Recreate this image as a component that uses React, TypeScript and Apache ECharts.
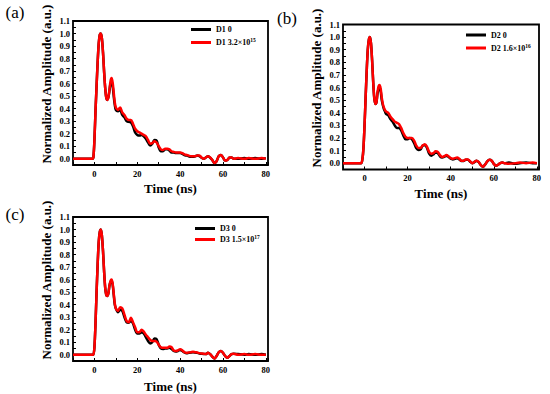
import React, { useEffect, useRef } from "react";
import * as echarts from "echarts";

const T = [-10, -5, -2, -1.5, -1, -0.5, 0, 0.5, 1, 1.5, 2, 2.5, 3, 3.5, 4, 4.5, 5, 5.5, 6, 6.5, 7, 7.5, 8, 8.5, 9, 9.5, 10,
  11, 12, 13, 14, 15, 16, 17, 18, 19, 20, 21, 22, 23, 24, 25, 26, 27, 28, 29, 30, 31, 32, 33, 34, 35, 36, 37, 38, 39, 40,
  41, 42, 43, 44, 45, 46, 47, 48, 49, 50, 51, 52, 53, 54, 55, 56, 57, 58, 59, 60, 61, 62, 63, 64, 65, 67, 70, 72, 75, 78, 80];

const A_BLACK = [0, 0, 0, 0, 0, 0.01, 0.15, 0.38, 0.58, 0.77, 0.92, 0.99, 1.0, 0.96, 0.85, 0.7, 0.57, 0.49, 0.47, 0.49, 0.54, 0.6, 0.61, 0.58, 0.5, 0.43, 0.39,
  0.38, 0.39, 0.35, 0.33, 0.3, 0.295, 0.29, 0.26, 0.21, 0.19,
  0.185, 0.19, 0.18, 0.16, 0.13, 0.105, 0.12, 0.15, 0.145, 0.09,
  0.06, 0.06, 0.075, 0.075, 0.065, 0.05, 0.05, 0.045, 0.045, 0.045,
  0.04, 0.03, 0.025, 0.02, 0.015, 0.015, 0.02, 0.025, 0.02, 0.008,
  0, 0.01, 0.02, 0.008, -0.01, -0.035, -0.02, 0.02, 0.03, 0.01,
  -0.015, -0.01, 0.008, 0.01, 0,
  0, 0.005, 0, 0.005, 0, 0.005];
const A_RED = [0, 0, 0, 0, 0, 0.01, 0.15, 0.38, 0.58, 0.77, 0.92, 0.99, 1.0, 0.96, 0.85, 0.7, 0.57, 0.49, 0.47, 0.49, 0.55, 0.62, 0.645, 0.61, 0.53, 0.45, 0.41,
  0.39, 0.41, 0.37, 0.35, 0.32, 0.31, 0.31, 0.28, 0.24, 0.22,
  0.21, 0.2, 0.19, 0.18, 0.15, 0.12, 0.125, 0.14, 0.13, 0.1,
  0.075, 0.07, 0.08, 0.08, 0.075, 0.06, 0.055, 0.05, 0.05, 0.05,
  0.045, 0.035, 0.03, 0.025, 0.02, 0.02, 0.02, 0.025, 0.025, 0.01,
  0, 0.01, 0.02, 0.01, -0.01, -0.035, -0.02, 0.02, 0.03, 0.01,
  -0.015, -0.01, 0.01, 0.01, 0,
  0.005, 0, 0.005, 0, 0.005, 0];

const B_BLACK = [0, 0, 0, 0, 0.03, 0.12, 0.3, 0.52, 0.73, 0.9, 0.98, 1.0, 0.95, 0.82, 0.65, 0.52, 0.47, 0.48, 0.55, 0.59, 0.6, 0.57, 0.5, 0.46, 0.43, 0.41, 0.39,
  0.38, 0.35, 0.33, 0.3, 0.28, 0.28, 0.26, 0.22, 0.19, 0.19,
  0.2, 0.19, 0.16, 0.12, 0.105, 0.11, 0.14, 0.145, 0.12, 0.075,
  0.06, 0.07, 0.085, 0.08, 0.055, 0.045, 0.05, 0.06, 0.05, 0.035,
  0.03, 0.035, 0.04, 0.03, 0.018, 0.018, 0.028, 0.028, 0.012, 0,
  0.008, 0.02, 0.008, -0.015, -0.028, -0.01, 0.015, 0.027, 0.02, -0.005,
  -0.02, -0.012, 0, 0.005, 0,
  0.005, -0.005, 0, 0.005, 0, 0];
const B_RED = [0, 0, 0, 0, 0.03, 0.12, 0.3, 0.52, 0.73, 0.9, 0.98, 1.0, 0.95, 0.82, 0.65, 0.52, 0.47, 0.48, 0.56, 0.61, 0.62, 0.59, 0.52, 0.47, 0.44, 0.42, 0.41,
  0.4, 0.37, 0.35, 0.33, 0.32, 0.31, 0.28, 0.24, 0.21, 0.2,
  0.2, 0.2, 0.18, 0.14, 0.12, 0.12, 0.14, 0.15, 0.13, 0.09,
  0.075, 0.08, 0.095, 0.09, 0.065, 0.05, 0.055, 0.065, 0.055, 0.04,
  0.035, 0.04, 0.045, 0.035, 0.02, 0.02, 0.03, 0.03, 0.015, 0,
  0.01, 0.02, 0.01, -0.015, -0.028, -0.01, 0.015, 0.027, 0.02, -0.005,
  -0.02, -0.012, 0, 0.005, 0,
  -0.005, 0, 0.005, 0, 0.005, 0];

const C_BLACK = [0, 0, 0, 0, 0, 0, 0.06, 0.25, 0.5, 0.72, 0.9, 0.98, 1.0, 0.95, 0.83, 0.67, 0.54, 0.48, 0.47, 0.49, 0.55, 0.58, 0.59, 0.56, 0.48, 0.4, 0.37,
  0.34, 0.36, 0.35, 0.3, 0.26, 0.255, 0.27, 0.25, 0.2, 0.17,
  0.17, 0.18, 0.17, 0.14, 0.11, 0.09, 0.1, 0.13, 0.125, 0.08,
  0.05, 0.045, 0.05, 0.05, 0.055, 0.045, 0.03, 0.025, 0.03, 0.038,
  0.03, 0.018, 0.012, 0.015, 0.018, 0.02, 0.018, 0.015, 0.01, 0.008,
  0.005, 0.005, 0.015, 0.005, -0.015, -0.03, -0.01, 0.02, 0.03, 0.015,
  -0.01, -0.024, -0.01, 0.005, 0.008,
  0.005, 0, 0.005, 0, 0.005, 0];
const C_RED = [0, 0, 0, 0, 0, 0, 0.06, 0.25, 0.5, 0.72, 0.9, 0.98, 1.0, 0.95, 0.83, 0.67, 0.54, 0.48, 0.47, 0.49, 0.55, 0.59, 0.6, 0.57, 0.49, 0.41, 0.37,
  0.35, 0.38, 0.37, 0.32, 0.27, 0.26, 0.295, 0.26, 0.22, 0.18,
  0.18, 0.2, 0.185, 0.16, 0.14, 0.12, 0.11, 0.11, 0.105, 0.08,
  0.06, 0.055, 0.055, 0.055, 0.065, 0.06, 0.035, 0.03, 0.035, 0.043,
  0.035, 0.02, 0.015, 0.018, 0.02, 0.024, 0.02, 0.018, 0.013, 0.01,
  0.008, 0.005, 0.015, 0.005, -0.015, -0.03, -0.01, 0.02, 0.03, 0.015,
  -0.01, -0.024, -0.01, 0.005, 0.008,
  0, 0.005, 0, 0.005, 0, 0];

const X_LABEL_STEP = 20;
const Y_LABEL_STEP = 0.1;

const PANEL_LABELS = ["(a)", "(b)", "(c)"];
const SERIES_NAMES = [
  ["D1 0", "D1 3.2×10^15"],
  ["D2 0", "D2 1.6×10^16"],
  ["D3 0", "D3 1.5×10^17"],
];
const X_NAME = "Time (ns)";
const Y_NAME = "Normalized Amplitude (a.u.)";

const FONT = "'Liberation Serif', 'Times New Roman', serif";

export default function App() {
  const ref = useRef<HTMLDivElement>(null);
  useEffect(() => {
    if (!ref.current) return;
    const chart = echarts.init(ref.current, null, { renderer: "svg" });

    const grids = [
      { left: 73, top: 21, width: 195, height: 144 },
      { left: 343, top: 24.5, width: 196, height: 145 },
      { left: 73, top: 217, width: 195, height: 144 },
    ];
    const xRanges = [[-10, 81], [-10, 81], [-10, 81]];
    const yRanges = [[-0.05, 1.1], [-0.05, 1.1], [-0.05, 1.1]];
    const xNameGaps = [17, 17.5, 19];
    const legendPos = [
      { left: 191, top: 24, gap: 2 },
      { left: 466, top: 29.5, gap: 2 },
      { left: 195, top: 223, gap: 0 },
    ];
    const data = [[A_BLACK, A_RED], [B_BLACK, B_RED], [C_BLACK, C_RED]];

    const tickLabel = { fontFamily: FONT, fontWeight: "bold" as const, fontSize: 8.5, color: "#000" };
    const isMult = (v: number, step: number) => Math.abs(v / step - Math.round(v / step)) < 1e-6;

    const option: any = {
      animation: false,
      backgroundColor: "#fff",
      grid: grids.map((g) => ({ ...g, show: true, borderColor: "#000", borderWidth: 1.8, backgroundColor: "transparent" })),
      xAxis: grids.map((_, i) => ({
        type: "value",
        gridIndex: i,
        position: "bottom",
        min: xRanges[i][0],
        max: xRanges[i][1],
        interval: 10,
        name: X_NAME,
        nameLocation: "middle",
        nameGap: xNameGaps[i],
        nameTextStyle: { fontFamily: FONT, fontWeight: "bold", fontSize: 13, color: "#000" },
        axisLine: { show: false, onZero: false },
        axisTick: { show: true, inside: true, length: 3, lineStyle: { color: "#000", width: 1 } },
        axisLabel: {
          ...tickLabel,
          margin: 4,
          showMinLabel: true,
          showMaxLabel: true,
          formatter: (v: number) => (v >= 0 && v <= 80 && isMult(v, X_LABEL_STEP) ? String(v) : ""),
        },
        splitLine: { show: false },
      })),
      yAxis: grids.map((_, i) => ({
        type: "value",
        gridIndex: i,
        position: "left",
        min: yRanges[i][0],
        max: yRanges[i][1],
        interval: 0.05,
        axisLine: { show: false, onZero: false },
        axisTick: { show: true, inside: true, length: 3, lineStyle: { color: "#000", width: 1 } },
        axisLabel: {
          ...tickLabel,
          margin: 3,
          showMinLabel: true,
          showMaxLabel: true,
          formatter: (v: number) => (v > -0.01 && isMult(v, Y_LABEL_STEP) ? v.toFixed(1) : ""),
        },
        splitLine: { show: false },
      })),
      legend: legendPos.map((p, i) => ({
        orient: "vertical",
        left: p.left,
        top: p.top,
        itemGap: p.gap,
        itemWidth: 20,
        itemHeight: 3,
        icon: "rect",
        padding: 0,
        data: SERIES_NAMES[i],
        formatter: (name: string) => name.replace(/\^(\d+)/, "{sup|$1}"),
        textStyle: {
          fontFamily: FONT,
          fontWeight: "bold",
          fontSize: 8,
          color: "#000",
          lineHeight: 11,
          rich: {
            sup: { fontFamily: FONT, fontWeight: "bold", fontSize: 5.5, color: "#000", verticalAlign: "top", lineHeight: 8 },
          },
        },
      })),
      series: data.flatMap((pair, i) =>
        pair.map((arr, j) => ({
          type: "line",
          name: SERIES_NAMES[i][j],
          xAxisIndex: i,
          yAxisIndex: i,
          data: T.map((t, k) => [t, arr[k]]),
          showSymbol: false,
          symbol: "none",
          smooth: 0.3,
          lineStyle: { color: j === 0 ? "#000" : "#ff0000", width: 2.5 },
          itemStyle: { color: j === 0 ? "#000" : "#ff0000" },
          z: j === 0 ? 2 : 3,
        }))
      ),
      graphic: [
        { type: "text", x: 15, y: 12, style: { text: PANEL_LABELS[0], font: `17px ${FONT}`, fill: "#000", textAlign: "center", textVerticalAlign: "middle" } },
        { type: "text", x: 287, y: 18.5, style: { text: PANEL_LABELS[1], font: `17px ${FONT}`, fill: "#000", textAlign: "center", textVerticalAlign: "middle" } },
        { type: "text", x: 15, y: 214.5, style: { text: PANEL_LABELS[2], font: `17px ${FONT}`, fill: "#000", textAlign: "center", textVerticalAlign: "middle" } },
        { type: "text", x: 46, y: 84, rotation: Math.PI / 2, style: { text: Y_NAME, font: `bold 13px ${FONT}`, fill: "#000", textAlign: "center", textVerticalAlign: "middle" } },
        { type: "text", x: 316, y: 88, rotation: Math.PI / 2, style: { text: Y_NAME, font: `bold 13px ${FONT}`, fill: "#000", textAlign: "center", textVerticalAlign: "middle" } },
        { type: "text", x: 46, y: 280, rotation: Math.PI / 2, style: { text: Y_NAME, font: `bold 13px ${FONT}`, fill: "#000", textAlign: "center", textVerticalAlign: "middle" } },
      ],
    };
    chart.setOption(option);
    return () => chart.dispose();
  }, []);
  return <div ref={ref} style={{ position: "fixed", left: 0, top: 0, width: 550, height: 394 }} />;
}
